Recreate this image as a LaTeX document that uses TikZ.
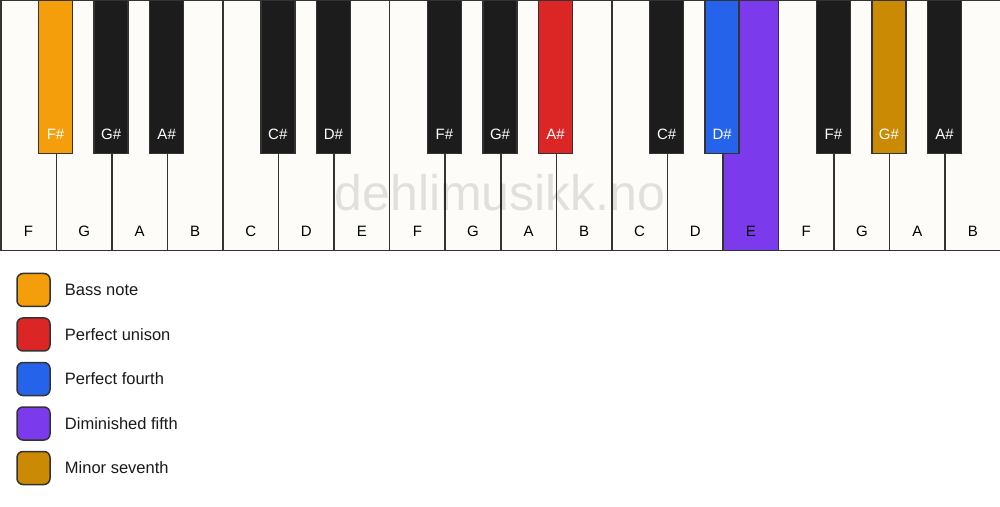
\documentclass[tikz,border=0pt]{standalone}
\usepackage{fontspec}
\setmainfont{Liberation Sans}
\usetikzlibrary{positioning, calc}
\definecolor{keywhite}{HTML}{FDFCF9}
\definecolor{keyblack}{HTML}{1C1C1C}
\definecolor{keyline}{HTML}{333333}
\definecolor{bassnote}{HTML}{F59E0B}
\definecolor{unison}{HTML}{DC2626}
\definecolor{fourth}{HTML}{2563EB}
\definecolor{dimfifth}{HTML}{7C3AED}
\definecolor{minseventh}{HTML}{CA8A04}
\begin{document}
\begin{tikzpicture}[x=1pt, y=1pt]
	\tikzset{
		whitekey/.style={draw=keyline, line width=1.5pt, minimum width=55.56pt, minimum height=250pt, anchor=north west, inner sep=0pt},
		blackkey/.style={draw=keyline, line width=1.5pt, minimum width=34pt, minimum height=153pt, anchor=north, inner sep=0pt},
		keylabel/.style={font=\fontsize{15}{18}\selectfont, inner sep=0pt},
		legendbox/.style={draw=keyline, line width=1.5pt, rounded corners=6pt, minimum size=33pt, inner sep=0pt},
		legendtext/.style={font=\fontsize{16.5}{20}\selectfont, text=black!90, anchor=west, inner sep=0pt}
	}
	\useasboundingbox (0,0) rectangle (1000,506);
	% white keys
	\foreach \n/\c [count=\i from 0] in {F/keywhite, G/keywhite, A/keywhite, B/keywhite, C/keywhite, D/keywhite, E/keywhite,
		F/keywhite, G/keywhite, A/keywhite, B/keywhite, C/keywhite, D/keywhite, E/dimfifth, F/keywhite, G/keywhite, A/keywhite, B/keywhite} {
		\node[whitekey, fill=\c] (w\i) at (\i*55.556, 506) {};
		\node[keylabel] (wl\i) at ($(w\i.south)+(0,20)$) {\n};
	}
	% black keys
	\foreach \b/\n/\c in {1/F/bassnote, 2/G/keyblack, 3/A/keyblack, 5/C/keyblack, 6/D/keyblack, 8/F/keyblack, 9/G/keyblack,
		10/A/unison, 12/C/keyblack, 13/D/fourth, 15/F/keyblack, 16/G/minseventh, 17/A/keyblack} {
		\node[blackkey, fill=\c] (b\b) at (\b*55.556, 506) {};
		\node[keylabel, text=white] (bl\b) at ($(b\b.south)+(0,20)$) {\n\#};
	}
	\node[font=\fontsize{50}{60}\selectfont, text=black, opacity=0.11] (watermark) at (500, 313) {dehlimusikk.no};
	% legend
	\foreach \c/\t [count=\k from 0] in {bassnote/Bass note, unison/Perfect unison, fourth/Perfect fourth,
		dimfifth/Diminished fifth, minseventh/Minor seventh} {
		\node[legendbox, fill=\c] (leg\k) at (33.5, 216-\k*44.5) {};
		\node[legendtext, right=14pt of leg\k] (legt\k) {\t};
	}
\end{tikzpicture}
\end{document}
